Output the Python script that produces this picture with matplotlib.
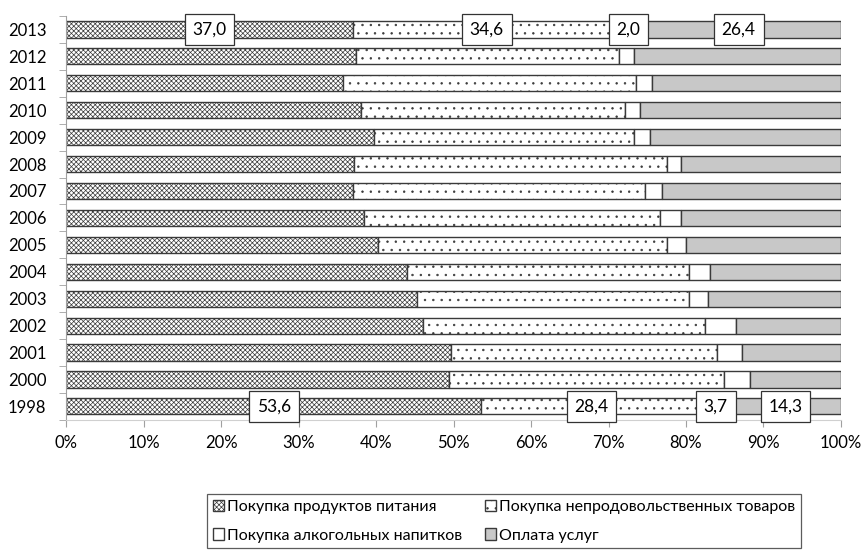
import matplotlib.pyplot as plt
import numpy as np

plt.rcParams['font.family'] = ['Lato', 'DejaVu Sans']
plt.rcParams['hatch.linewidth'] = 0.5
plt.rcParams['hatch.color'] = '#333333'

years = ['1998', '2000', '2001', '2002', '2003', '2004', '2005', '2006',
         '2007', '2008', '2009', '2010', '2011', '2012', '2013']
food = [53.6, 49.4, 49.7, 46.0, 45.3, 44.0, 40.3, 38.5, 37.0, 37.1, 39.8, 38.0, 35.7, 37.4, 37.0]
nonfood = [28.4, 35.5, 34.3, 36.5, 35.1, 36.4, 37.3, 38.1, 37.7, 40.5, 33.5, 34.1, 37.8, 34.0, 34.6]
alcohol = [3.7, 3.4, 3.2, 4.0, 2.5, 2.7, 2.4, 2.7, 2.2, 1.7, 2.0, 1.9, 2.1, 1.9, 2.0]
services = [14.3, 11.7, 12.8, 13.5, 17.1, 16.9, 20.0, 20.7, 23.1, 20.7, 24.7, 26.0, 24.4, 26.7, 26.4]
labels = ['Покупка продуктов питания', 'Покупка непродовольственных товаров',
          'Покупка алкогольных напитков', 'Оплата услуг']
labeled_years = ['1998', '2013']

fig = plt.figure(figsize=(8.63, 5.51), dpi=100)
ax = fig.add_axes([0.0765, 0.238, 0.898, 0.733])

y = np.arange(len(years))
series = [food, nonfood, alcohol, services]
styles = [dict(facecolor='white', hatch='xxxxxxx'),
          dict(facecolor='white', hatch='..'),
          dict(facecolor='white', hatch=None),
          dict(facecolor='#c8c8c8', hatch=None)]
left = np.zeros(len(years))
handles = []
for vals, st, lab in zip(series, styles, labels):
    vals = np.array(vals)
    b = ax.barh(y, vals, left=left, height=0.6, edgecolor='#3a3a3a',
                linewidth=1.0, label=lab, **st)
    handles.append(b)
    for i, yr in enumerate(years):
        if yr in labeled_years:
            ax.text(left[i] + vals[i] / 2, y[i], f'{vals[i]:.1f}'.replace('.', ','),
                    ha='center', va='center', fontsize=12.5,
                    bbox=dict(boxstyle='square,pad=0.45', facecolor='white',
                              edgecolor='#333333', linewidth=0.9))
    left = left + vals

ax.set_xlim(0, 100)
ax.set_ylim(-0.5, len(years) - 0.5)
ax.set_xticks(np.arange(0, 101, 10))
ax.set_xticklabels([f'{v}%' for v in range(0, 101, 10)], fontsize=12)
ax.set_yticks(y)
ax.set_yticklabels(years, fontsize=12)
ax.set_yticks(np.arange(-0.5, len(years), 1), minor=True)
ax.tick_params(axis='y', which='major', length=0, pad=14)
ax.tick_params(axis='y', which='minor', length=5, color='#a0a0a0')
ax.tick_params(axis='x', length=5, color='#a0a0a0', pad=6)
for s in ['top', 'right']:
    ax.spines[s].set_visible(False)
ax.spines['left'].set_color('#a0a0a0')
ax.spines['bottom'].set_color('#d0d0d0')

order = [0, 2, 1, 3]
leg = fig.legend([handles[i] for i in order], [labels[i] for i in order],
                 ncol=2, loc='center', bbox_to_anchor=(0.584, 0.054),
                 fontsize=11.5, frameon=True, fancybox=False, edgecolor='#333333',
                 handlelength=0.7, handleheight=0.7, handletextpad=0.2,
                 columnspacing=1.4, borderpad=0.35, labelspacing=0.9)
leg.get_frame().set_linewidth(0.9)

fig.savefig('out.png', dpi=100)
